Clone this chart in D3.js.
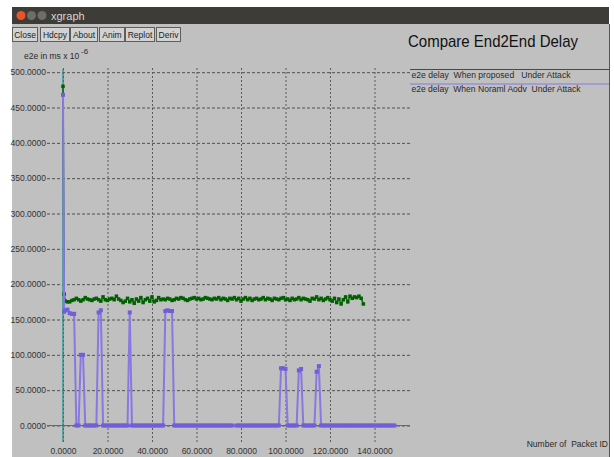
<!DOCTYPE html>
<html>
<head>
<meta charset="utf-8">
<script src="https://cdn.jsdelivr.net/npm/d3@7"></script>
<style>
  html, body { margin: 0; padding: 0; background: #fff; }
  svg { display: block; font-family: "Liberation Sans", Arial, sans-serif; }
</style>
</head>
<body>
<div class="container"></div>
<script>
// xgraph window: compare end to end delay
var xTicks = [0, 20, 40, 60, 80, 100, 120, 140];
var yTicks = [0, 50, 100, 150, 200, 250, 300, 350, 400, 450, 500];
var buttons = ["Close", "Hdcpy", "About", "Anim", "Replot", "Deriv"];
var legendNames = ["e2e delay  When proposed   Under Attack", "e2e delay  When Noraml Aodv  Under Attack"];

// set 0: proposed (green)
var greenIds = [0, 0.5, 1, 2, 3, 4, 5, 6, 7, 8, 9, 10, 11, 12, 13, 14, 15, 16, 17, 18, 19, 20,
  21, 22, 23, 24, 25, 26, 27, 28, 29, 30, 31, 32, 33, 34, 35, 36, 37, 38, 39, 40,
  41, 42, 43, 44, 45, 46, 47, 48, 49, 50, 51, 52, 53, 54, 55, 56, 57, 58, 59, 60,
  61, 62, 63, 64, 65, 66, 67, 68, 69, 70, 71, 72, 73, 74, 75, 76, 77, 78, 79, 80,
  81, 82, 83, 84, 85, 86, 87, 88, 89, 90, 91, 92, 93, 94, 95, 96, 97, 98, 99, 100,
  101, 102, 103, 104, 105, 106, 107, 108, 109, 110, 111, 112, 113, 114, 115, 116, 117, 118, 119, 120,
  121, 122, 123, 124, 125, 126, 127, 128, 129, 130, 131, 132, 133, 134, 135];
var greenDelay = [480, 186, 176, 175, 175, 177, 178, 180, 178, 176, 178, 181, 179, 178, 177, 179, 180, 178, 176, 182, 178,
  177, 179, 180, 178, 183, 179, 177, 174, 176, 180, 175, 178, 173, 179, 176, 181, 174, 178, 180, 176,
  182, 175, 177, 181, 178, 179, 178, 180, 179, 177, 178, 180, 179, 181, 180, 178, 177, 179, 180, 181,
  179, 180, 178, 179, 181, 180, 179, 178, 180, 179, 181, 178, 180, 179, 177, 180, 179, 181, 178, 180,
  176, 179, 181, 178, 180, 177, 179, 180, 178, 179, 181, 178, 180, 179, 177, 180, 179, 178, 180, 181,
  178, 179, 177, 180, 178, 179, 181, 178, 180, 179, 178, 176, 180, 179, 182, 178, 180, 177, 179, 181,
  178, 176, 180, 174, 179, 172, 178, 182, 175, 183, 180, 182, 181, 183, 180, 172];

// set 1: normal aodv (purple)
var purpleIds = [0, 0.5, 1, 2, 3, 4, 5, 6, 7, 8, 9, 10, 11, 12, 13, 14, 15, 16, 17, 18, 19, 20,
  21, 22, 23, 24, 25, 26, 27, 28, 29, 30, 31, 32, 33, 34, 35, 36, 37, 38, 39, 40,
  41, 42, 43, 44, 45, 46, 47, 48, 49, 50, 51, 52, 53, 54, 55, 56, 57, 58, 59, 60,
  61, 62, 63, 64, 65, 66, 67, 68, 69, 70, 71, 72, 73, 74, 75, 76, 78, 79, 80,
  81, 82, 83, 84, 85, 86, 87, 88, 89, 90, 91, 92, 93, 94, 95, 96, 97, 98, 99, 100,
  101, 102, 103, 104, 105, 106, 107, 108, 109, 110, 111, 112, 113, 114, 115, 116, 117, 118, 119, 120,
  121, 122, 123, 124, 125, 126, 127, 128, 129, 130, 131, 132, 133, 134, 135, 136, 137, 138, 139, 140,
  141, 142, 143, 144, 145, 146, 147, 148, 149];
var purpleDelay = [468, 161, 163, 164, 159, 158, 158, 0, 0, 100, 100, 0, 0, 0, 0, 0, 0, 160, 163, 0, 0, 0,
  0, 0, 0, 0, 0, 0, 0, 0, 0, 160, 0, 0, 0, 0, 0, 0, 0, 0, 0, 0,
  0, 0, 0, 0, 0, 162, 163, 162, 162, 0, 0, 0, 0, 0, 0, 0, 0, 0, 0, 0,
  0, 0, 0, 0, 0, 0, 0, 0, 0, 0, 0, 0, 0, 0, 0, 0, 0, 0, 0,
  0, 0, 0, 0, 0, 0, 0, 0, 0, 0, 0, 0, 0, 0, 0, 0, 0, 81, 81, 80,
  0, 0, 0, 0, 0, 78, 80, 0, 0, 0, 0, 0, 0, 76, 84, 0, 0, 0, 0, 0,
  0, 0, 0, 0, 0, 0, 0, 0, 0, 0, 0, 0, 0, 0, 0, 0, 0, 0, 0, 0,
  0, 0, 0, 0, 0, 0, 0, 0, 0];

var width = 614, height = 457;
var plotLeft = 47, plotRight = 410, plotTop = 68, plotBottom = 442;

var svg = d3.select(".container").append("svg")
    .attr("width", width)
    .attr("height", height);

// window frame
svg.append("rect").attr("x", 12).attr("y", 7).attr("width", 597).attr("height", 450).attr("fill", "#c0c0c0");
svg.append("rect").attr("x", 12).attr("y", 7).attr("width", 597).attr("height", 17).attr("fill", "#3d3c37");
svg.append("line").attr("x1", 609.5).attr("x2", 609.5).attr("y1", 24).attr("y2", 457).attr("stroke", "#555");
svg.append("circle").attr("cx", 21).attr("cy", 15.5).attr("r", 4.5).attr("fill", "#e9542a");
svg.append("circle").attr("cx", 31.5).attr("cy", 15.5).attr("r", 4.5).attr("fill", "#6e6d68");
svg.append("circle").attr("cx", 42).attr("cy", 15.5).attr("r", 4.5).attr("fill", "#6e6d68");
svg.append("text").attr("x", 51).attr("y", 19.5).attr("fill", "#d8d6d0")
    .style("font-size", "11px").text("xgraph");

// buttons
var btnX = [12, 40, 70, 99, 125, 156];
var btnW = [25, 29, 27, 25, 29, 24];
var btn = svg.selectAll(".btn").data(buttons).enter().append("g").attr("class", "btn");
btn.append("rect")
    .attr("x", function(d, i) { return btnX[i] + 0.5; })
    .attr("y", 27.5)
    .attr("width", function(d, i) { return btnW[i]; })
    .attr("height", 14)
    .attr("fill", "#d2d2d2")
    .attr("stroke", "#5e5e5e");
btn.append("text")
    .attr("x", function(d, i) { return btnX[i] + 0.5 + btnW[i] / 2; })
    .attr("y", 38)
    .attr("text-anchor", "middle")
    .attr("fill", "#222")
    .style("font-size", "8.5px")
    .text(function(d) { return d; });

var x = d3.scaleLinear().domain([0, 140]).range([63, 374.5]);
var y = d3.scaleLinear().domain([0, 500]).range([425.5, 72.2]);

// grid via axes
var yAxis = svg.append("g")
    .attr("transform", "translate(" + plotLeft + ",0)")
    .call(d3.axisLeft(y).tickValues(yTicks).tickSize(-(plotRight - plotLeft)).tickPadding(1)
        .tickFormat(d3.format(".4f")));
yAxis.select(".domain").remove();
yAxis.selectAll("line").attr("stroke", "#505050").attr("stroke-dasharray", "3,2");
yAxis.selectAll("text").attr("fill", "#333").style("font-size", "8.5px")
    .style("font-family", "'Liberation Sans', Arial, sans-serif");

var xAxis = svg.append("g")
    .attr("transform", "translate(0," + plotBottom + ")")
    .call(d3.axisBottom(x).tickValues(xTicks).tickSize(-(plotBottom - plotTop)).tickPadding(6)
        .tickFormat(d3.format(".4f")));
xAxis.select(".domain").remove();
xAxis.selectAll("line").attr("stroke", "#5a5a5a").attr("stroke-dasharray", "2,2");
xAxis.selectAll("text").attr("fill", "#333").style("font-size", "8.5px")
    .style("font-family", "'Liberation Sans', Arial, sans-serif");

// zero axes in teal
svg.append("line").attr("x1", plotLeft).attr("x2", plotRight)
    .attr("y1", y(0)).attr("y2", y(0)).attr("stroke", "#138c8c").attr("stroke-width", 1.2);
svg.append("line").attr("x1", x(0)).attr("x2", x(0))
    .attr("y1", plotTop + 1).attr("y2", plotBottom).attr("stroke", "#138c8c").attr("stroke-width", 1.2);

// series
var green = greenIds.map(function(d, i) { return [d, greenDelay[i]]; });
var purple = purpleIds.map(function(d, i) { return [d, purpleDelay[i]]; });
var line = d3.line().x(function(d) { return x(d[0]); }).y(function(d) { return y(d[1]); });

svg.append("path").datum(green).attr("d", line)
    .attr("fill", "none").attr("stroke", "#127012").attr("stroke-width", 1.6);
svg.selectAll(".gdot").data(green).enter().append("rect").attr("class", "gdot")
    .attr("x", function(d) { return x(d[0]) - 1.75; })
    .attr("y", function(d) { return y(d[1]) - 1.75; })
    .attr("width", 3.5).attr("height", 3.5).attr("fill", "#006000");

svg.append("path").datum(purple).attr("d", line)
    .attr("fill", "none").attr("stroke", "#8878e0").attr("stroke-width", 2);
svg.selectAll(".pdot").data(purple).enter().append("rect").attr("class", "pdot")
    .attr("x", function(d) { return x(d[0]) - 2; })
    .attr("y", function(d) { return y(d[1]) - 2; })
    .attr("width", 4).attr("height", 4).attr("fill", "#6f5fd8");

// labels
svg.append("text").attr("x", 24).attr("y", 59).attr("fill", "#2a2a2a")
    .style("font-size", "8.5px").text("e2e in ms x 10");
svg.append("text").attr("x", 81).attr("y", 54).attr("fill", "#2a2a2a")
    .style("font-size", "8px").text("-6");

svg.append("text").attr("x", 408).attr("y", 46.5).attr("fill", "#111")
    .style("font-size", "17px")
    .attr("textLength", 170).attr("lengthAdjust", "spacingAndGlyphs")
    .text("Compare End2End Delay");

var legendColors = ["#127012", "#8878e0"];
var legendY = [69.5, 84];
var legendLen = [159, 169];
legendNames.forEach(function(name, i) {
    svg.append("line").attr("x1", 410).attr("x2", 609).attr("y1", legendY[i]).attr("y2", legendY[i])
        .attr("stroke", legendColors[i]).attr("stroke-width", 1);
    svg.append("text").attr("x", 411.5).attr("y", legendY[i] + 8).attr("fill", "#2a2a2a")
        .style("font-size", "8.5px").style("white-space", "pre")
        .attr("textLength", legendLen[i]).attr("lengthAdjust", "spacingAndGlyphs")
        .text(name);
});

svg.append("text").attr("x", 608).attr("y", 446.5).attr("text-anchor", "end").attr("fill", "#2a2a2a")
    .style("font-size", "8.5px").style("white-space", "pre").text("Number of  Packet ID");
</script>
</body>
</html>
